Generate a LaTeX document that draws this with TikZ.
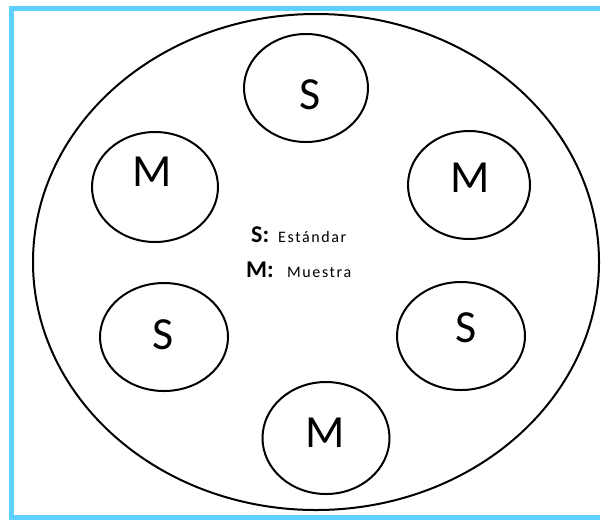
\documentclass[tikz,border=0pt]{standalone}
\usepackage{fontspec}
\setmainfont{Carlito}
\usetikzlibrary{shapes.geometric}

\definecolor{framecyan}{RGB}{95,208,255}

\begin{document}
\begin{tikzpicture}[
    x=1pt, y=-1pt,
    plate/.style={draw, ellipse, line width=2pt, minimum width=566pt, minimum height=496pt, inner sep=0pt},
    well/.style={draw, ellipse, line width=2pt, minimum width=124pt, minimum height=108pt, inner sep=0pt},
    tag/.style={font=\fontsize{46}{46}\selectfont, inner sep=0pt},
    key/.style={font=\bfseries\fontsize{24}{24}\selectfont, inner sep=0pt, anchor=base west},
    keytext/.style={font=\addfontfeature{LetterSpace=10}\fontsize{16}{16}\selectfont, inner sep=0pt, anchor=base west}
  ]
  \useasboundingbox (0,0) rectangle (609,520);
  % frame
  \draw[framecyan, line width=5pt] (600,8) -- (11,8) -- (11,517) -- (600,517);

  % plate
  \node[plate] (plate) at (316,262) {};

  % wells
  \node[well] (w1) at (306,88) {};
  \node[well, minimum width=126pt, minimum height=110pt] (w2) at (155,187) {};
  \node[well, minimum width=122pt] (w3) at (469,185) {};
  \node[well, minimum width=128pt] (w4) at (164,337) {};
  \node[well, minimum width=128pt] (w5) at (461,336) {};
  \node[well, minimum width=127pt, minimum height=112pt] (w6) at (326,438) {};

  \node[tag] (t1) at (310,95) {S};
  \node[tag] (t2) at (152,172) {M};
  \node[tag] (t3) at (470,178) {M};
  \node[tag] (t4) at (163,335) {S};
  \node[tag] (t5) at (466,328) {S};
  \node[tag] (t6) at (325,433) {M};

  % legend
  \node[key] (ks) at (251,242) {S:};
  \node[keytext] (kst) at (278,242) {Estándar};
  \node[key] (km) at (246,277) {M:};
  \node[keytext] (kmt) at (287,277) {Muestra};
\end{tikzpicture}
\end{document}
